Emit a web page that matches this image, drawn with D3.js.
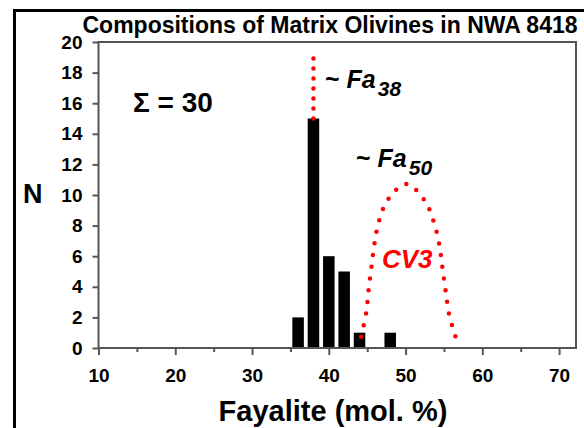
<!DOCTYPE html>
<html>
<head>
<meta charset="utf-8">
<script src="https://cdn.jsdelivr.net/npm/d3@7"></script>
<style>
  body { margin: 0; background: #fff; }
  svg { font-family: "Liberation Sans", Arial, sans-serif; }
</style>
</head>
<body>
<div id="chart"></div>
<script>
// histogram of matrix olivine compositions
var faBins = [36, 38, 40, 42, 44, 48];
var counts = [2, 15, 6, 5, 1, 1];
var xTicks = [10, 20, 30, 40, 50, 60, 70];
var xMinorTicks = [15, 25, 35, 45, 55, 65];
var yTicks = [0, 2, 4, 6, 8, 10, 12, 14, 16, 18, 20];
// red dotted guides
var fa38Line = [[38, 15], [38, 19.4]];
var cv3Arc = [[44.2, 0.74], [44.86, 2.27], [45.16, 3.72], [45.55, 5.27], [45.94, 6.8],
    [46.55, 8.32], [47.72, 9.72], [50.1, 10.72], [52.45, 9.67], [53.66, 8.26],
    [54.4, 6.73], [54.8, 5.25], [55.22, 3.72], [55.66, 2.22], [56.5, 0.74]];

var W = 584, H = 428;
var plotLeft = 98.5, plotRight = 576, plotTop = 42, plotBottom = 348;
var binWidth = 1.5;

var svg = d3.select('#chart').append('svg')
    .attr('width', W)
    .attr('height', H);

var x = d3.scaleLinear().domain([10, 72.2]).range([plotLeft, plotRight]);
var y = d3.scaleLinear().domain([0, 20]).range([plotBottom, plotTop]);

// outer frame (left + top only visible)
svg.append('line').attr('x1', 14.5).attr('x2', 14.5).attr('y1', 9).attr('y2', H)
    .attr('stroke', '#000').attr('stroke-width', 3);
svg.append('line').attr('x1', 13).attr('x2', W).attr('y1', 10.5).attr('y2', 10.5)
    .attr('stroke', '#000').attr('stroke-width', 3);

svg.append('text')
    .attr('x', 330).attr('y', 33)
    .attr('text-anchor', 'middle')
    .style('font-size', '23px').style('font-weight', 'bold')
    .text('Compositions of Matrix Olivines in NWA 8418');

// bars
svg.selectAll('rect.bar')
    .data(faBins)
    .enter().append('rect')
    .attr('class', 'bar')
    .attr('x', function(d) { return x(d - binWidth / 2); })
    .attr('width', function(d) { return x(d + binWidth / 2) - x(d - binWidth / 2); })
    .attr('y', function(d, i) { return y(counts[i]); })
    .attr('height', function(d, i) { return y(0) - y(counts[i]); })
    .style('fill', '#000');

// plot box
svg.append('rect')
    .attr('x', plotLeft).attr('y', plotTop)
    .attr('width', plotRight - plotLeft).attr('height', plotBottom - plotTop)
    .attr('fill', 'none').attr('stroke', '#555').attr('stroke-width', 2);

// axes
var yAxis = d3.axisLeft(y).tickValues(yTicks).tickSize(6).tickPadding(10);
var gy = svg.append('g').attr('transform', 'translate(' + plotLeft + ',0)').call(yAxis);
var xAxis = d3.axisBottom(x).tickValues(xTicks).tickSize(7).tickPadding(14);
var gx = svg.append('g').attr('transform', 'translate(0,' + plotBottom + ')').call(xAxis);
var xMinor = d3.axisBottom(x).tickValues(xMinorTicks).tickSize(4).tickFormat('');
var gxm = svg.append('g').attr('transform', 'translate(0,' + plotBottom + ')').call(xMinor);

[gy, gx, gxm].forEach(function(g) {
    g.select('.domain').remove();
    g.selectAll('line').attr('stroke', '#555').attr('stroke-width', 2);
    g.selectAll('text')
        .attr('fill', '#000')
        .style('font-size', '19px')
        .style('font-weight', 'bold')
        .style('font-family', '"Liberation Sans", Arial, sans-serif');
});

// axis titles
svg.append('text')
    .attr('x', 333).attr('y', 421)
    .attr('text-anchor', 'middle')
    .style('font-size', '29px').style('font-weight', 'bold')
    .text('Fayalite (mol. %)');
svg.append('text')
    .attr('x', 23).attr('y', 203)
    .style('font-size', '27px').style('font-weight', 'bold')
    .text('N');

// red dotted guides
var line = d3.line()
    .x(function(d) { return x(d[0]); })
    .y(function(d) { return y(d[1]); });
svg.append('path')
    .attr('d', line(fa38Line))
    .attr('fill', 'none').attr('stroke', '#ff0000')
    .attr('stroke-width', 4.5).attr('stroke-linecap', 'round')
    .attr('stroke-dasharray', '0,10');
svg.append('path')
    .attr('d', line.curve(d3.curveCatmullRom)(cv3Arc))
    .attr('fill', 'none').attr('stroke', '#ff0000')
    .attr('stroke-width', 4.5).attr('stroke-linecap', 'round')
    .attr('stroke-dasharray', '0,11.8');

// annotations
function faLabel(xp, yp, sub) {
    var t = svg.append('text')
        .attr('x', xp).attr('y', yp)
        .style('font-size', '25px').style('font-weight', 'bold');
    t.append('tspan').text('~ ');
    t.append('tspan').style('font-style', 'italic').text('Fa');
    t.append('tspan').attr('dx', 2).attr('dy', 8)
        .style('font-style', 'italic').style('font-size', '21px').text(sub);
}
faLabel(325, 88, '38');
faLabel(356, 167, '50');

svg.append('text')
    .attr('x', 382).attr('y', 268)
    .attr('fill', '#ff0000')
    .style('font-size', '26px').style('font-weight', 'bold').style('font-style', 'italic')
    .text('CV3');

svg.append('text')
    .attr('x', 133).attr('y', 112)
    .style('font-size', '28px').style('font-weight', 'bold')
    .text('Σ = 30');
</script>
</body>
</html>
